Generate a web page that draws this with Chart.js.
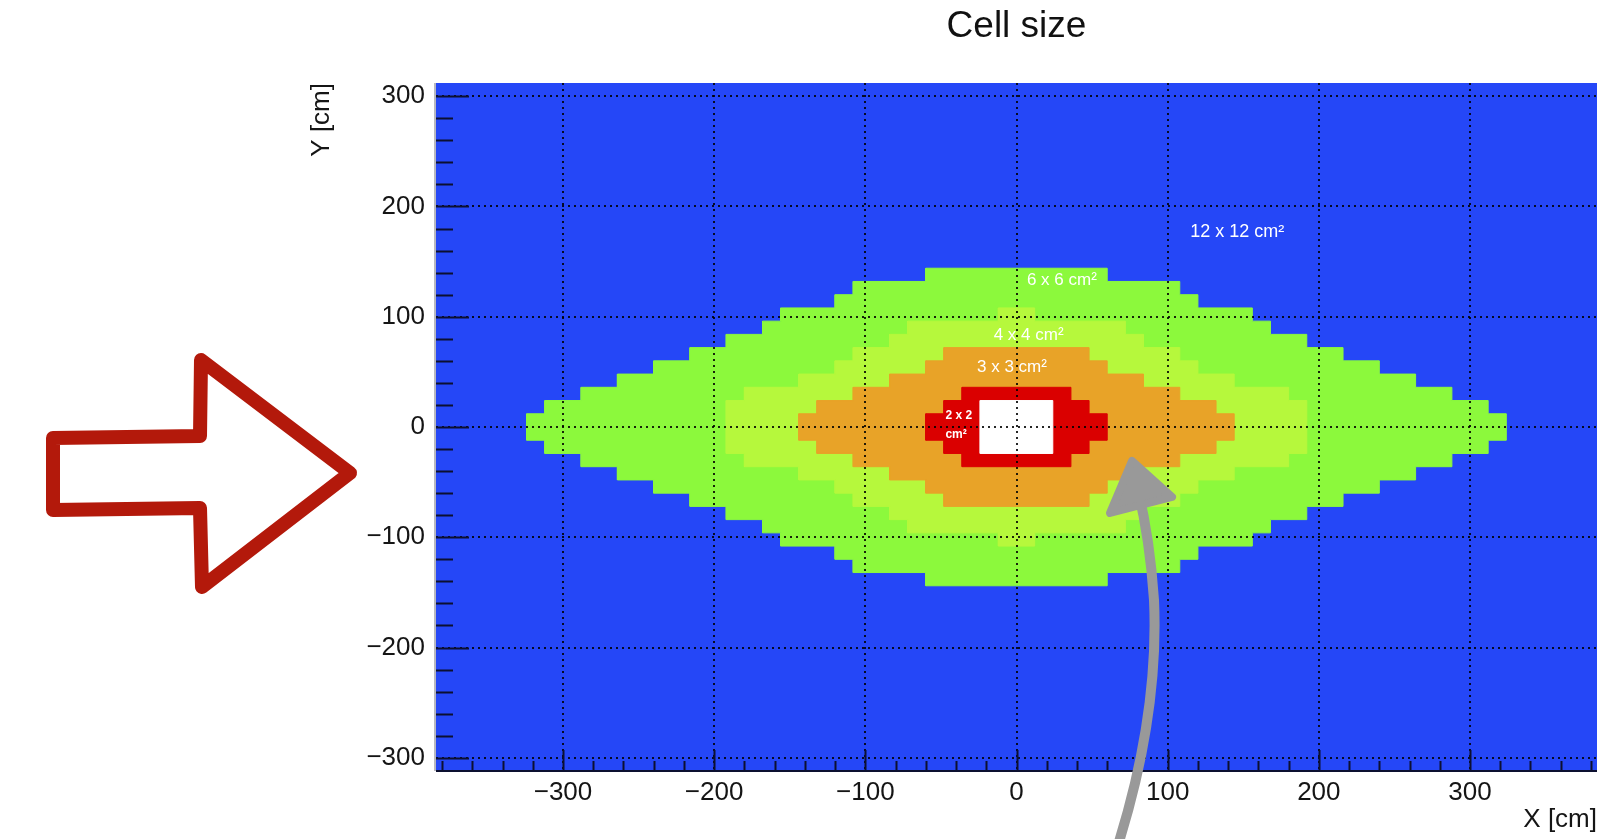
<!DOCTYPE html>
<html>
<head>
<meta charset="utf-8">
<title>Cell size</title>
<script src="https://cdn.jsdelivr.net/npm/chart.js@4.4.1/dist/chart.umd.min.js"></script>
<style>
  html, body { margin: 0; padding: 0; background: #fff; }
  #wrap { width: 1619px; height: 839px; }
</style>
</head>
<body>
<div id="wrap"><canvas id="cellMap" width="1619" height="839"></canvas></div>
<script>
// module rows are 12 cm high; each list gives the half width (cm) of a zone per row, from y=0 upward
const rowHeight = 12;
const halfWidth6x6 = [324, 312, 288, 264, 240, 216, 192, 168, 156, 120, 108, 60];
const halfWidth4x4 = [192, 192, 180, 144, 120, 108, 84, 72, 12];
const halfWidth3x3 = [144, 132, 108, 84, 60, 48];
const halfWidth2x2 = [60, 48, 36];
const halfWidthHole = [24, 24];

// axis ranges and tick labels
const xRange = [-384, 384];
const yRange = [-312, 312];
const xTicks = [-300, -200, -100, 0, 100, 200, 300];
const yTicks = [-300, -200, -100, 0, 100, 200, 300];
const tickLabels = ['\u2212300', '\u2212200', '\u2212100', '0', '100', '200', '300'];

const zoneNames = ['12 x 12 cm\u00b2', '6 x 6 cm\u00b2', '4 x 4 cm\u00b2', '3 x 3 cm\u00b2', '2 x 2'];

const COL = {
  c12: '#2547F7',
  c6: '#8CF93C',
  c4: '#B6F83C',
  c3: '#E8A328',
  c2: '#DA0000',
  hole: '#FFFFFF'
};

// staircase outline of a zone, symmetric in x and y
function stairOutline(w) {
  const pts = [];
  const n = w.length;
  for (let k = 0; k < n; k++) {
    pts.push({x: w[k], y: k * rowHeight});
    pts.push({x: w[k], y: (k + 1) * rowHeight});
  }
  for (let k = n - 1; k >= 0; k--) {
    pts.push({x: -w[k], y: (k + 1) * rowHeight});
    pts.push({x: -w[k], y: k * rowHeight});
  }
  for (let k = 0; k < n; k++) {
    pts.push({x: -w[k], y: -k * rowHeight});
    pts.push({x: -w[k], y: -(k + 1) * rowHeight});
  }
  for (let k = n - 1; k >= 0; k--) {
    pts.push({x: w[k], y: -(k + 1) * rowHeight});
    pts.push({x: w[k], y: -k * rowHeight});
  }
  return pts;
}

function zone(label, w, color) {
  return {
    label: label,
    data: stairOutline(w),
    showLine: true,
    fill: 'shape',
    backgroundColor: color,
    borderColor: color,
    borderWidth: 1,
    pointRadius: 0,
    tension: 0
  };
}

// text written inside the zones (data coordinates)
const zoneLabels = [
  {text: zoneNames[0], x: 146, y: 177, size: 18, align: 'center'},
  {text: zoneNames[1], x: 30, y: 133, size: 17, align: 'center'},
  {text: zoneNames[2], x: 8, y: 83, size: 17, align: 'center'},
  {text: zoneNames[3], x: -3, y: 54, size: 17, align: 'center'},
  {text: zoneNames[4], x: -47, y: 10, size: 12, align: 'left', bold: true},
  {text: 'cm\u00b2', x: -47, y: -7, size: 12, align: 'left', bold: true}
];

const FONT = "'Liberation Sans', Arial, Helvetica, sans-serif";

const decor = {
  id: 'decor',
  beforeDraw(chart) {
    const {ctx, chartArea: a} = chart;
    ctx.save();
    ctx.fillStyle = COL.c12;
    ctx.fillRect(a.left, a.top, a.right - a.left, a.bottom - a.top);
    ctx.restore();
  },
  afterDatasetsDraw(chart) {
    const {ctx} = chart;
    const xs = chart.scales.x, ys = chart.scales.y;
    ctx.save();
    ctx.fillStyle = '#fff';
    ctx.textBaseline = 'middle';
    zoneLabels.forEach(l => {
      ctx.font = (l.bold ? 'bold ' : '') + l.size + 'px ' + FONT;
      ctx.textAlign = l.align;
      ctx.fillText(l.text, xs.getPixelForValue(l.x), ys.getPixelForValue(l.y));
    });
    ctx.restore();
  },
  afterDraw(chart) {
    const {ctx, chartArea: a} = chart;
    const xs = chart.scales.x, ys = chart.scales.y;
    ctx.save();

    // inside tick marks, major every 100, minor every 20
    ctx.strokeStyle = '#0c1030';
    ctx.lineWidth = 2;
    ctx.beginPath();
    for (let v = Math.ceil(yRange[0] / 20) * 20; v <= yRange[1]; v += 20) {
      const py = Math.round(ys.getPixelForValue(v)) + 0.5;
      const len = v % 100 === 0 ? 33 : 17;
      ctx.moveTo(a.left, py);
      ctx.lineTo(a.left + len, py);
    }
    for (let v = Math.ceil(xRange[0] / 20) * 20; v <= xRange[1]; v += 20) {
      const px = Math.round(xs.getPixelForValue(v)) + 0.5;
      const len = v % 100 === 0 ? 21 : 10;
      ctx.moveTo(px, a.bottom);
      ctx.lineTo(px, a.bottom - len);
    }
    ctx.stroke();

    // frame edges
    ctx.lineWidth = 2;
    ctx.strokeStyle = '#0c1030';
    ctx.beginPath();
    ctx.moveTo(a.left, a.bottom);
    ctx.lineTo(a.right, a.bottom);
    ctx.stroke();
    ctx.strokeStyle = '#b8b8c0';
    ctx.beginPath();
    ctx.moveTo(a.left - 1, a.top);
    ctx.lineTo(a.left - 1, a.bottom);
    ctx.stroke();

    // title over the frame
    ctx.fillStyle = '#111';
    ctx.font = '37px ' + FONT;
    ctx.textAlign = 'center';
    ctx.textBaseline = 'middle';
    ctx.fillText('Cell size', (a.left + a.right) / 2, 27);

    // red outline arrow in the left margin
    ctx.strokeStyle = '#B3190B';
    ctx.lineWidth = 14;
    ctx.lineJoin = 'round';
    ctx.lineCap = 'round';
    ctx.beginPath();
    ctx.moveTo(53, 438);
    ctx.lineTo(200, 436);
    ctx.lineTo(201, 360);
    ctx.lineTo(350, 473);
    ctx.lineTo(202, 587);
    ctx.lineTo(200, 508);
    ctx.lineTo(53, 510);
    ctx.closePath();
    ctx.stroke();

    // grey pointer arrow from below
    ctx.strokeStyle = '#999999';
    ctx.fillStyle = '#999999';
    ctx.lineWidth = 10;
    ctx.beginPath();
    ctx.moveTo(1118, 845);
    ctx.bezierCurveTo(1140, 775, 1158, 690, 1154, 600);
    ctx.quadraticCurveTo(1150, 540, 1138, 490);
    ctx.stroke();
    ctx.lineWidth = 8;
    ctx.beginPath();
    ctx.moveTo(1132, 461);
    ctx.lineTo(1172, 497);
    ctx.lineTo(1110, 513);
    ctx.closePath();
    ctx.fill();
    ctx.stroke();

    ctx.restore();
  }
};

const tickFont = {family: FONT, size: 26};

const chart = new Chart(document.getElementById('cellMap'), {
  type: 'scatter',
  data: {
    datasets: [
      zone('hole', halfWidthHole, COL.hole),
      zone('2 x 2', halfWidth2x2, COL.c2),
      zone('3 x 3', halfWidth3x3, COL.c3),
      zone('4 x 4', halfWidth4x4, COL.c4),
      zone('6 x 6', halfWidth6x6, COL.c6)
    ]
  },
  options: {
    responsive: false,
    animation: false,
    events: [],
    layout: {padding: {left: 0, right: 22, top: 83, bottom: 0}},
    plugins: {legend: {display: false}, tooltip: {enabled: false}, title: {display: false}},
    scales: {
      x: {
        type: 'linear',
        min: xRange[0],
        max: xRange[1],
        afterBuildTicks: s => { s.ticks = xTicks.map(v => ({value: v})); },
        afterFit: s => { s.height = 68; },
        ticks: {
          font: tickFont,
          color: '#151515',
          padding: 6,
          maxRotation: 0,
          callback: (v) => tickLabels[xTicks.indexOf(v)]
        },
        grid: {color: 'rgba(0,0,0,0.85)', lineWidth: 2, drawTicks: false, z: 1},
        border: {display: false, dash: [2, 4]},
        title: {display: true, text: 'X [cm]', align: 'end', font: {family: FONT, size: 26}, color: '#151515', padding: {top: 0, bottom: 4}}
      },
      y: {
        type: 'linear',
        min: yRange[0],
        max: yRange[1],
        afterBuildTicks: s => { s.ticks = yTicks.map(v => ({value: v})); },
        afterFit: s => { s.width = 436; },
        ticks: {
          font: tickFont,
          color: '#151515',
          padding: 11,
          callback: (v) => tickLabels[yTicks.indexOf(v)]
        },
        grid: {color: 'rgba(0,0,0,0.85)', lineWidth: 2, drawTicks: false, z: 1},
        border: {display: false, dash: [2, 4]},
        title: {display: true, text: 'Y [cm]', align: 'end', font: {family: FONT, size: 26}, color: '#151515', padding: {top: 306, bottom: 0}}
      }
    }
  },
  plugins: [decor]
});
</script>
</body>
</html>
